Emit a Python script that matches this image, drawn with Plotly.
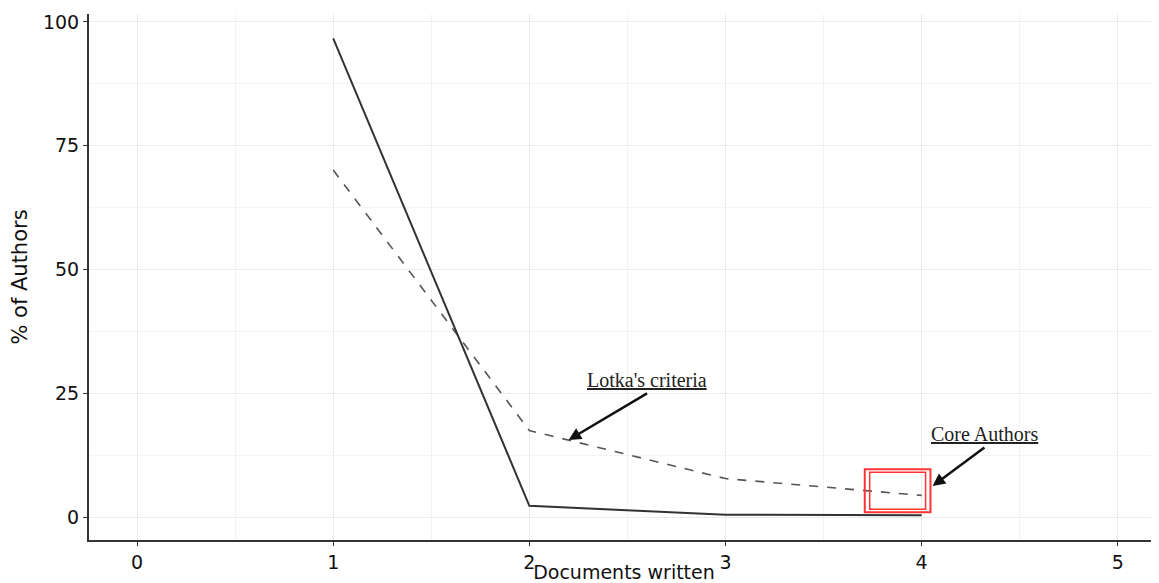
import plotly.graph_objects as go

docs = [1, 2, 3, 4]
observed_pct = [96.7, 2.3, 0.5, 0.4]
lotka_pct = [70.1, 17.5, 7.8, 4.4]
x_ticks = [0, 1, 2, 3, 4, 5]
y_ticks = [0, 25, 50, 75, 100]

fig = go.Figure()
fig.add_trace(go.Scatter(x=docs, y=lotka_pct, mode="lines",
                         line=dict(color="#555555", width=1.6, dash="dash"),
                         showlegend=False))
fig.add_trace(go.Scatter(x=docs, y=observed_pct, mode="lines",
                         line=dict(color="#333333", width=2),
                         showlegend=False))

tickfont = dict(family="DejaVu Sans", size=19, color="#111111")
fig.update_layout(
    width=1151, height=575,
    margin=dict(l=81, r=0, t=6, b=43),
    paper_bgcolor="white", plot_bgcolor="white",
    xaxis=dict(range=[-0.245, 5.21], tickvals=x_ticks, ticks="outside", ticklen=4,
               tickcolor="#333", showline=True, linecolor="#333", linewidth=2,
               showgrid=True, gridcolor="#ebebeb", gridwidth=1, zeroline=False,
               minor=dict(dtick=0.5, showgrid=True, gridcolor="#f3f3f3", gridwidth=1),
               tickfont=tickfont, automargin=False,
               title=dict(text="Documents written", font=dict(family="DejaVu Sans", size=19, color="#111"), standoff=0)),
    yaxis=dict(range=[-4.6, 101.6], tickvals=y_ticks, ticks="outside", ticklen=4,
               tickcolor="#333", showline=True, linecolor="#333", linewidth=2,
               showgrid=True, gridcolor="#ebebeb", gridwidth=1, zeroline=False,
               minor=dict(dtick=12.5, showgrid=True, gridcolor="#f3f3f3", gridwidth=1),
               tickfont=tickfont, automargin=False,
               title=dict(text="% of Authors", font=dict(family="DejaVu Sans", size=21, color="#111"), standoff=10)),
)

annfont = dict(family="Liberation Serif", size=20, color="#222")
fig.add_annotation(x=2.2, y=15.6, ax=2.6, ay=25.0, axref="x", ayref="y",
                   text="<u>Lotka's criteria</u>", showarrow=True, arrowhead=2,
                   arrowsize=1, arrowwidth=2.5, arrowcolor="#111", font=annfont,
                   yanchor="bottom", xanchor="center")
fig.add_annotation(x=4.056, y=6.3, ax=4.32, ay=14.1, axref="x", ayref="y",
                   text="<u>Core Authors</u>", showarrow=True, arrowhead=2,
                   arrowsize=1, arrowwidth=2.5, arrowcolor="#111", font=annfont,
                   yanchor="bottom", xanchor="center")

fig.add_shape(type="rect", x0=3.71, x1=4.045, y0=1.0, y1=9.7,
              line=dict(color="#ff3333", width=2))
fig.add_shape(type="rect", x0=3.735, x1=4.02, y0=1.6, y1=9.1,
              line=dict(color="#ff3333", width=1.5))

fig.write_html("out.html")
